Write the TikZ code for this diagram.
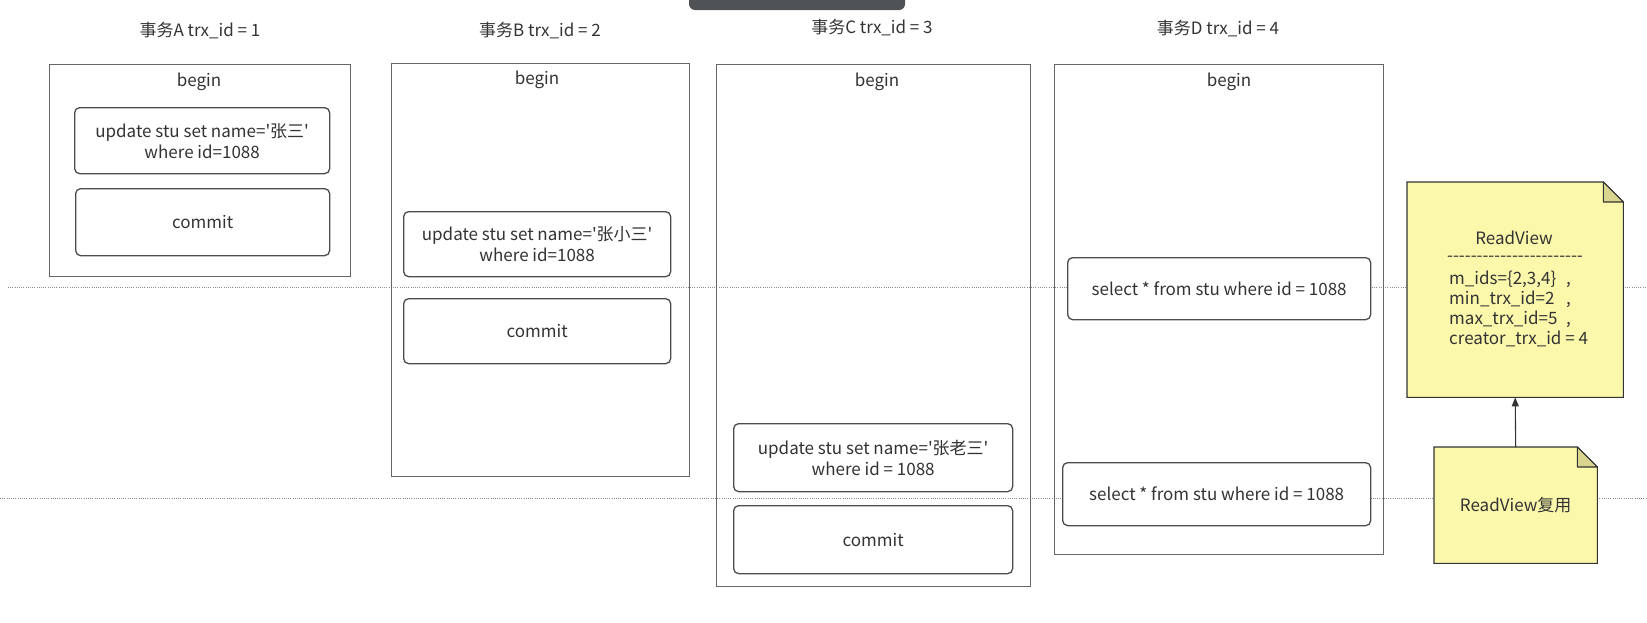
\documentclass[tikz,border=0pt]{standalone}
\usepackage{fontspec}
\setmainfont{Noto Sans CJK SC}[Ligatures=TeXOff]
\usepackage{tikz}
\usetikzlibrary{arrows.meta, positioning, calc}
\definecolor{ink}{HTML}{333333}
\definecolor{notefill}{HTML}{FBF8AC}
\definecolor{notefold}{HTML}{D9D58E}
\definecolor{barclr}{HTML}{505356}

\begin{document}
\begin{tikzpicture}[x=1pt, y=-1pt,
    every node/.style={text=ink, font=\fontsize{17}{21}\selectfont},
    trx/.style={draw=black!60, line width=1.1pt, anchor=north west, inner sep=0pt},
    op/.style={draw=black!70, line width=1.3pt, rounded corners=5pt, fill=white, anchor=north west, inner sep=0pt, align=center},
    note/.style={anchor=north west, inner sep=0pt},
    sepline/.style={black!45, dash pattern=on 1pt off 1.2pt, line width=0.9pt}]
    \useasboundingbox (0,0) rectangle (1647,622);
    \fill[barclr, rounded corners=6pt] (689,-10) rectangle (905,10);
    \coordinate (t1w) at (8,287);
    \coordinate (t1e) at (1647,287);
    \coordinate (t2w) at (0,498);
    \coordinate (t2e) at (1647,498);
    \draw[sepline] (t1w) -- (t1e);
    \draw[sepline] (t2w) -- (t2e);
    \foreach \t/\i/\tx/\ty/\x/\y/\w/\h/\bx/\by in {A/1/200/31/49/64/301/212/199/82, B/2/540/31/391/63/298/413/537/80, C/3/872/28/716/64/314/522/877/82, D/4/1218/29/1054/64/329/490/1229/82} {
        \node (ttl\t) at (\tx,\ty) {事务\t\ trx\_id = \i};
        \node[trx, minimum width=\w pt, minimum height=\h pt] (trx\t) at (\x,\y) {};
        \node (begin\t) at (\bx,\by) {begin};
    }
    \node[op, minimum width=255pt, minimum height=66pt] (updA) at (74,107) {update stu set name='张三'\\where id=1088};
    \node[op, minimum width=254pt, minimum height=67pt] (comA) at (75,188) {commit};
    \node[op, minimum width=267pt, minimum height=65pt] (updB) at (403,211) {update stu set name='张小三'\\where id=1088};
    \node[op, minimum width=267pt, minimum height=65pt] (comB) at (403,298) {commit};
    \node[op, minimum width=279pt, minimum height=68pt] (updC) at (733,423) {update stu set name='张老三'\\where id = 1088};
    \node[op, minimum width=279pt, minimum height=68pt] (comC) at (733,505) {commit};
    \node[op, minimum width=303pt, minimum height=62pt] (selD1) at (1067,257) {select * from stu where id = 1088};
    \node[op, minimum width=308pt, minimum height=63pt] (selD2) at (1062,462) {select * from stu where id = 1088};
    \node[note, minimum width=216pt, minimum height=215pt] (rv) at (1407,182) {};
    \node[note, minimum width=163pt, minimum height=116pt] (reuse) at (1434,447) {};
    \foreach \nt in {rv, reuse} {
        \filldraw[fill=notefill, draw=black!80, line width=1.1pt] (\nt.north west) -- ($(\nt.north east)+(-20,0)$) -- ($(\nt.north east)+(0,20)$) -- (\nt.south east) -- (\nt.south west) -- cycle;
        \filldraw[fill=notefold, draw=black!80, line width=1.1pt, line join=round] ($(\nt.north east)+(-20,0)$) -- ($(\nt.north east)+(-20,20)$) -- ($(\nt.north east)+(0,20)$) -- cycle;
    }
    \node (rvhead) at (1514,238) {ReadView};
    \node (rvsep) at (1515,259) {-----------------------};
    \node[anchor=west, align=left, inner sep=0pt, font=\fontsize{17}{20}\selectfont] (rvbody) at (1449,309) {\makebox[117pt][l]{m\_ids=\{2,3,4\}},\\\makebox[117pt][l]{min\_trx\_id=2},\\\makebox[117pt][l]{max\_trx\_id=5},\\creator\_trx\_id = 4};
    \node (reuseT) at (reuse.center) {ReadView复用};
    \draw[-{Triangle[length=9pt, width=7pt]}, line width=1.1pt, black!80] (reuse.north) -- (rv.south);
\end{tikzpicture}
\end{document}
